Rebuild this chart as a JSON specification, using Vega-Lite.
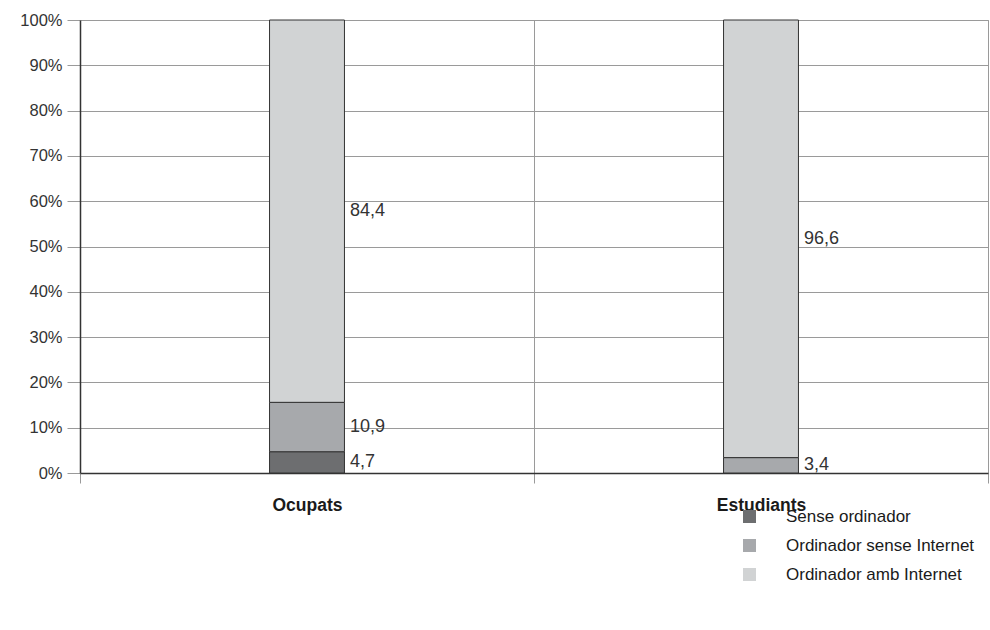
{
  "$schema": "https://vega.github.io/schema/vega-lite/v6.json",
  "autosize": "none",
  "width": 908,
  "height": 453,
  "padding": {"left": 80, "top": 20, "right": 2, "bottom": 157},
  "background": "white",
  "config": {
    "font": "Liberation Sans",
    "locale": {"number": {"decimal": ",", "thousands": ".", "grouping": [3], "currency": ["", " €"]}},
    "view": {"stroke": "#9a9a9a", "strokeWidth": 1}
  },
  "data": {
    "values": [
      {"grup": "Ocupats", "tipus": "Sense ordinador", "ordre": 1, "valor": 4.7},
      {"grup": "Ocupats", "tipus": "Ordinador sense Internet", "ordre": 2, "valor": 10.9},
      {"grup": "Ocupats", "tipus": "Ordinador amb Internet", "ordre": 3, "valor": 84.4},
      {"grup": "Estudiants", "tipus": "Sense ordinador", "ordre": 1, "valor": 0},
      {"grup": "Estudiants", "tipus": "Ordinador sense Internet", "ordre": 2, "valor": 3.4},
      {"grup": "Estudiants", "tipus": "Ordinador amb Internet", "ordre": 3, "valor": 96.6}
    ]
  },
  "transform": [
    {"stack": "valor", "groupby": ["grup"], "sort": [{"field": "ordre", "order": "ascending"}], "as": ["y0", "y1"]},
    {"calculate": "(datum.y0 + datum.y1) / 2", "as": "ymid"}
  ],
  "encoding": {
    "x": {
      "field": "grup", "type": "nominal", "sort": ["Ocupats", "Estudiants"],
      "scale": {"paddingInner": 0, "paddingOuter": 0},
      "axis": {
        "title": null, "labelAngle": 0, "tickBand": "extent", "grid": true,
        "gridColor": "#9a9a9a", "gridWidth": 1, "tickSize": 10, "tickColor": "#9a9a9a",
        "domainColor": "#333333", "domainWidth": 1.5,
        "labelFont": "Liberation Sans", "labelFontSize": 17.5, "labelFontWeight": "bold",
        "labelColor": "#1a1a1a", "labelPadding": 13
      }
    }
  },
  "layer": [
    {
      "mark": {"type": "bar", "width": {"band": 0.165}, "stroke": "#333333", "strokeWidth": 1},
      "encoding": {
        "y": {
          "field": "y0", "type": "quantitative",
          "scale": {"domain": [0, 100], "nice": false},
          "axis": {
            "title": null, "values": [0, 10, 20, 30, 40, 50, 60, 70, 80, 90, 100],
            "labelExpr": "datum.value + '%'", "grid": true, "gridColor": "#9a9a9a",
            "tickSize": 13, "tickColor": "#9a9a9a", "domainColor": "#333333", "domainWidth": 1.5,
            "labelFont": "Liberation Sans", "labelFontSize": 16.5, "labelColor": "#333333", "labelPadding": 5
          }
        },
        "y2": {"field": "y1"},
        "color": {
          "field": "tipus", "type": "nominal",
          "scale": {
            "domain": ["Sense ordinador", "Ordinador sense Internet", "Ordinador amb Internet"],
            "range": ["#6d6e70", "#a7a9ac", "#d1d3d4"]
          },
          "legend": {
            "title": null, "orient": "none", "legendX": 661, "legendY": 488,
            "symbolType": "square", "symbolSize": 170, "symbolStrokeWidth": 0,
            "labelFont": "Liberation Sans", "labelFontSize": 17, "labelColor": "#1a1a1a",
            "labelLimit": 0, "labelOffset": 28, "rowPadding": 11, "padding": 0
          }
        }
      }
    },
    {
      "transform": [{"filter": "datum.valor > 0"}],
      "mark": {"type": "text", "align": "left", "baseline": "middle", "dx": 43, "fontSize": 18, "color": "#333333", "font": "Liberation Sans"},
      "encoding": {
        "y": {"field": "ymid", "type": "quantitative"},
        "text": {"field": "valor", "type": "quantitative", "format": ".1f"}
      }
    }
  ]
}
